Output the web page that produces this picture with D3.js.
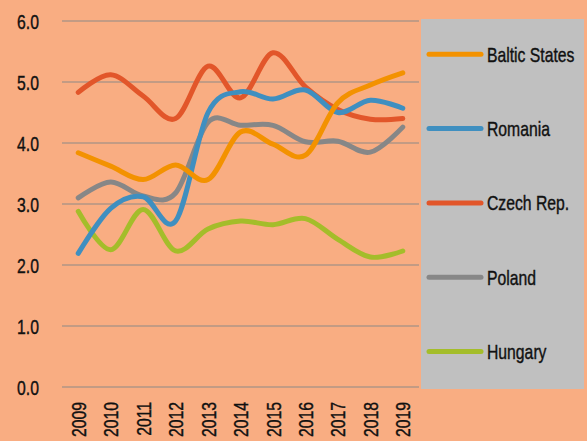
<!DOCTYPE html>
<html lang="en">
<head>
    <meta charset="UTF-8">
    <title>Chart</title>
    <style>
        body { margin: 0; background: #F9AD82; }
        text { font-family: "Liberation Sans", Arial, sans-serif; fill: #111; stroke: #111; stroke-width: 0.4px; }
    </style>
</head>
<body>
    <div class="canvas"></div>
    <script src="https://cdnjs.cloudflare.com/ajax/libs/d3/7.8.2/d3.min.js"></script>
    <script>
        const years = ["2009", "2010", "2011", "2012", "2013", "2014", "2015", "2016", "2017", "2018", "2019"];
        const yTicks = [0, 1, 2, 3, 4, 5, 6];

        const baltic = [3.84, 3.62, 3.40, 3.64, 3.40, 4.18, 3.98, 3.80, 4.66, 4.95, 5.15];
        const romania = [2.19, 2.93, 3.12, 2.72, 4.50, 4.84, 4.72, 4.87, 4.50, 4.70, 4.57];
        const czech = [4.83, 5.12, 4.77, 4.40, 5.26, 4.74, 5.48, 4.92, 4.55, 4.39, 4.40];
        const poland = [3.10, 3.36, 3.13, 3.18, 4.34, 4.29, 4.29, 4.02, 4.03, 3.85, 4.26];
        const hungary = [2.88, 2.25, 2.91, 2.23, 2.59, 2.72, 2.66, 2.76, 2.42, 2.13, 2.23];

        const seriesNames = ["Baltic States", "Romania", "Czech Rep.", "Poland", "Hungary"];
        const seriesValues = [baltic, romania, czech, poland, hungary];
        const colors = ["#F39200", "#3F8FC0", "#E2562A", "#878787", "#A4BD2A"];

        const width = 587, height = 441;
        const margin = { top: 21, left: 62, right: 168, bottom: 54 };
        const squeeze = 0.75; // condensed look

        const svg = d3.select(".canvas").append("svg")
            .attr("width", width)
            .attr("height", height);

        svg.append("rect").attr("width", width).attr("height", height).attr("fill", "#F9AD82");

        const x = d3.scaleBand()
            .domain(years)
            .range([margin.left, width - margin.right])
            .paddingInner(0)
            .paddingOuter(0);

        const y = d3.scaleLinear()
            .domain([0, 6])
            .range([height - margin.bottom, margin.top]);

        // gridlines
        svg.append("g").selectAll("line")
            .data(yTicks)
            .enter().append("line")
            .attr("x1", margin.left)
            .attr("x2", width - margin.right)
            .attr("y1", d => y(d))
            .attr("y2", d => y(d))
            .attr("stroke", "#8e8a86")
            .attr("stroke-width", 1.2);

        const yAxis = d3.axisLeft(y).tickValues(yTicks).tickFormat(d3.format(".1f")).tickSize(0);
        const yAxisGroup = svg.append("g").attr("transform", `translate(${margin.left}, 0)`).call(yAxis);
        yAxisGroup.select(".domain").remove();
        yAxisGroup.selectAll("text")
            .attr("font-size", "21px")
            .attr("font-family", null)
            .attr("fill", "#111")
            .attr("x", 0)
            .attr("dy", "0.36em")
            .attr("transform", `translate(-23, 0) scale(${squeeze}, 1)`);

        const xAxis = d3.axisBottom(x).tickSize(0);
        const xAxisGroup = svg.append("g").attr("transform", `translate(0, ${height - margin.bottom})`).call(xAxis);
        xAxisGroup.select(".domain").remove();
        xAxisGroup.selectAll("text")
            .attr("font-size", "21px")
            .attr("font-family", null)
            .attr("fill", "#111")
            .attr("text-anchor", "end")
            .attr("dy", "0.36em")
            .attr("x", 0)
            .attr("y", 0)
            .attr("transform", `translate(0, 15) rotate(-90) scale(${squeeze}, 1)`);

        const line = d3.line()
            .x((d, i) => x(years[i]) + x.bandwidth() / 2)
            .y(d => y(d))
            .curve(d3.curveCardinal);

        // draw in reverse so orange sits on top
        const order = [4, 3, 2, 1, 0];
        svg.append("g").selectAll("path")
            .data(order)
            .enter().append("path")
            .attr("d", i => line(seriesValues[i]))
            .attr("fill", "none")
            .attr("stroke", i => colors[i])
            .attr("stroke-width", 5)
            .attr("stroke-linecap", "round");

        // legend
        const legend = svg.append("g");
        legend.append("rect")
            .attr("x", 421).attr("y", 19)
            .attr("width", 163).attr("height", 370)
            .attr("fill", "#C0C0C0");

        const items = legend.selectAll("g.item")
            .data(seriesNames)
            .enter().append("g")
            .attr("class", "item")
            .attr("transform", (d, i) => `translate(0, ${54.3 + i * 74.3})`);

        items.append("line")
            .attr("x1", 429).attr("x2", 481)
            .attr("stroke", (d, i) => colors[i])
            .attr("stroke-width", 5)
            .attr("stroke-linecap", "round");

        items.append("text")
            .attr("dy", "0.36em")
            .attr("font-size", "21px")
            .attr("transform", `translate(487, 0) scale(${squeeze}, 1)`)
            .text(d => d);
    </script>
</body>
</html>
